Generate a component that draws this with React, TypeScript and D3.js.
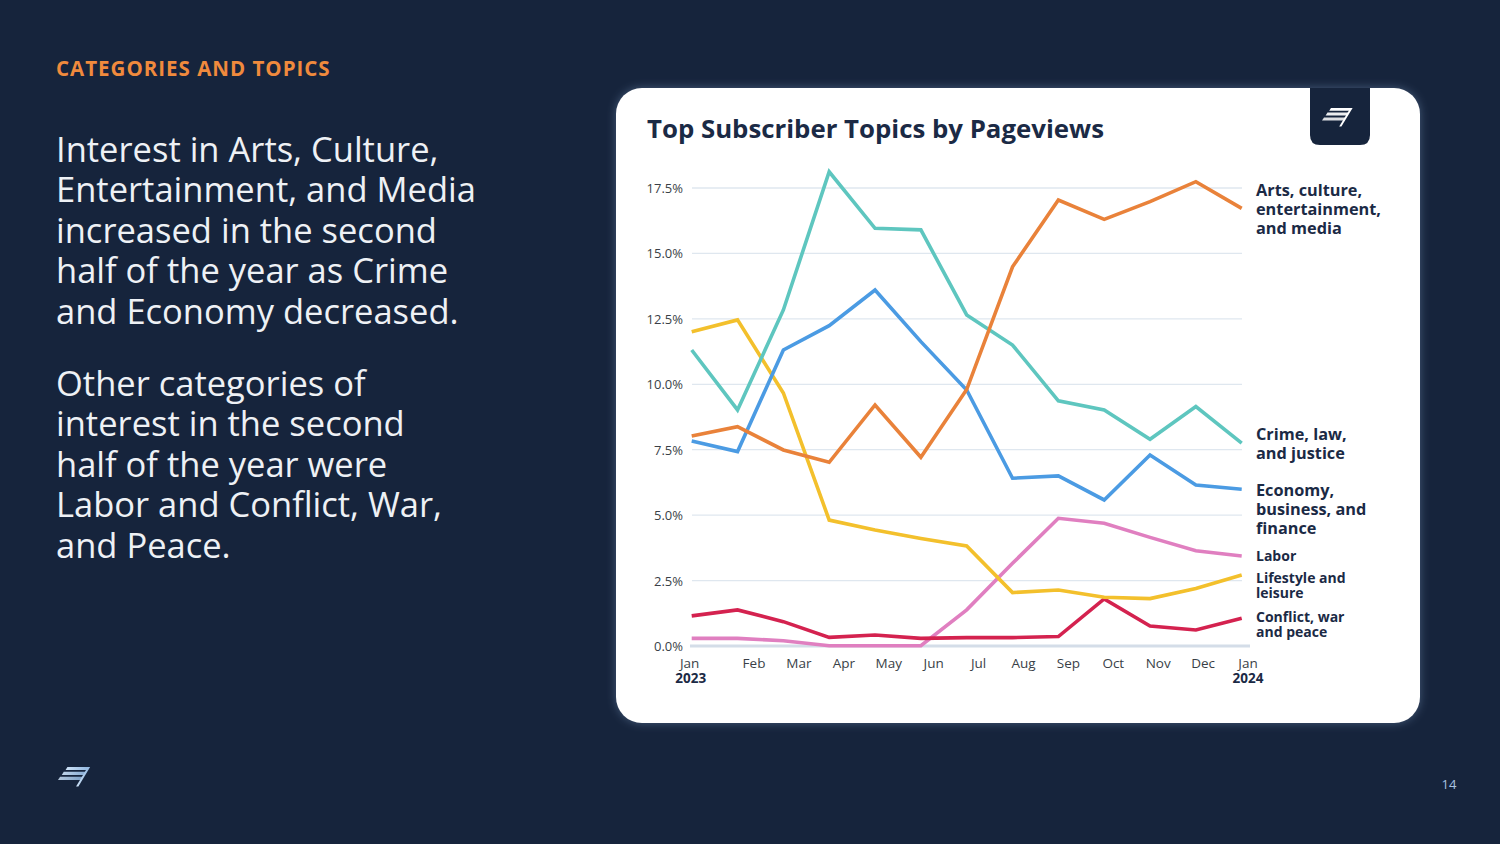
import React from "react";
import * as d3 from "d3";

// ---------- DATA ----------
const monthLabels = ["Jan", "Feb", "Mar", "Apr", "May", "Jun", "Jul", "Aug", "Sep", "Oct", "Nov", "Dec", "Jan"];
const yearLabels = ["2023", "2024"];
const yTicks = [0, 2.5, 5, 7.5, 10, 12.5, 15, 17.5];

const artsCulture = [8.02, 8.38, 7.49, 7.02, 9.21, 7.21, 9.8, 14.49, 17.04, 16.3, 16.98, 17.74, 16.72];
const crimeLaw = [11.31, 9.02, 12.84, 18.12, 15.96, 15.9, 12.65, 11.5, 9.37, 9.02, 7.9, 9.15, 7.75];
const economy = [7.83, 7.43, 11.31, 12.24, 13.6, 11.63, 9.78, 6.41, 6.5, 5.58, 7.3, 6.15, 5.99];
const labor = [0.29, 0.29, 0.2, 0.01, 0.01, 0.01, 1.38, 3.16, 4.88, 4.69, 4.15, 3.64, 3.44];
const lifestyle = [12.01, 12.46, 9.67, 4.81, 4.43, 4.11, 3.82, 2.04, 2.14, 1.86, 1.81, 2.2, 2.71];
const conflict = [1.15, 1.38, 0.93, 0.33, 0.42, 0.29, 0.32, 0.32, 0.36, 1.8, 0.76, 0.61, 1.06];

const seriesNames = [
  ["Labor"],
  ["Conflict, war", "and peace"],
  ["Lifestyle and", "leisure"],
  ["Economy,", "business, and", "finance"],
  ["Crime, law,", "and justice"],
  ["Arts, culture,", "entertainment,", "and media"],
];
const seriesValues = [labor, conflict, lifestyle, economy, crimeLaw, artsCulture];

// ---------- STYLE ----------
const seriesColors = ["#e07fc0", "#d4224f", "#f3c02c", "#4b9be3", "#5ec6bf", "#e9823a"];
const labelSizes = [14, 14, 14, 16.3, 16.3, 16.3];
const labelLineH = [15, 15, 15, 19, 19, 19];
const labelNudge = [0, -2, 2, 1, -9, -18];

const NAVY = "#16243c";
const FONT = "'Open Sans', 'Lato', sans-serif";

function Logo({ x, y, s, color, id }: { x: number; y: number; s: number; color: string; id: string }) {
  // stylised flag mark: three slanted stripes and a diagonal stroke
  return (
    <g transform={`translate(${x},${y}) scale(${s})`} fill={color}>
      <path d="M9,0 L30,0 L28.3,2.8 L7.2,2.8 Z" />
      <path d="M5.5,4.6 L27.2,4.6 L25.4,7.6 L3.6,7.6 Z" opacity={0.92} />
      <path d="M2,9.4 L24.2,9.4 L22.4,12.4 L0,12.4 Z" opacity={0.85} />
      <path d="M28.4,0 L30.6,0 L19.4,18.5 L17.2,18.5 Z" />
    </g>
  );
}

export default function App() {
  const W = 1500;
  const H = 844;

  const x = d3.scaleLinear().domain([0, 12]).range([691.7, 1241.7]);
  const y = d3.scaleLinear().domain([0, 17.5]).range([646, 188]);
  // month tick labels (Feb..Jan 2024) sit on their own evenly spaced axis
  const xLab = d3.scaleLinear().domain([1, 12]).range([754, 1248]);

  const line = d3
    .line<number>()
    .x((_, i) => x(i))
    .y((d) => y(d))
    .curve(d3.curveLinear);

  const leftPara1 = [
    "Interest in Arts, Culture,",
    "Entertainment, and Media",
    "increased in the second",
    "half of the year as Crime",
    "and Economy decreased.",
  ];
  const leftPara2 = [
    "Other categories of",
    "interest in the second",
    "half of the year were",
    "Labor and Conflict, War,",
    "and Peace.",
  ];

  return (
    <div style={{ position: "fixed", left: 0, top: 0, width: W, height: H }}>
      <svg width={W} height={H} viewBox={`0 0 ${W} ${H}`} style={{ display: "block" }}>
        <defs>
          <filter id="glow" x="-5%" y="-5%" width="110%" height="110%">
            <feGaussianBlur in="SourceAlpha" stdDeviation="5" result="blur" />
            <feFlood floodColor="#7d9cc4" floodOpacity="0.45" result="col" />
            <feComposite in="col" in2="blur" operator="in" result="shadow" />
            <feMerge>
              <feMergeNode in="shadow" />
              <feMergeNode in="SourceGraphic" />
            </feMerge>
          </filter>
          <linearGradient id="lg" x1="0" x2="1" y1="0" y2="0">
            <stop offset="0" stopColor="#cfe3f7" />
            <stop offset="1" stopColor="#8fb6e0" />
          </linearGradient>
        </defs>
        <rect x={0} y={0} width={W} height={H} fill={NAVY} />

        {/* Left side text */}
        <text x={56} y={68} dominantBaseline="central" fill="#f08a3d" fontFamily={FONT} fontWeight={700} fontSize={20.5} letterSpacing={1}>
          CATEGORIES AND TOPICS
        </text>
        {leftPara1.map((t, i) => (
          <text key={"p1" + i} x={56} y={148 + i * 40.6} dominantBaseline="central" fill="#eef1f5" fontFamily={FONT} fontSize={34.5}>
            {t}
          </text>
        ))}
        {leftPara2.map((t, i) => (
          <text key={"p2" + i} x={56} y={382 + i * 40.6} dominantBaseline="central" fill="#eef1f5" fontFamily={FONT} fontSize={34.5}>
            {t}
          </text>
        ))}

        <Logo x={58} y={767} s={1.05} color="url(#lg)" id="a" />
        <text x={1449} y={784} textAnchor="middle" dominantBaseline="central" fill="#a9c2e0" fontFamily={FONT} fontSize={13}>
          14
        </text>

        {/* Card */}
        <rect x={616} y={88} width={804} height={635} rx={26} fill="#ffffff" filter="url(#glow)" />
        <path d="M1310,88 L1370,88 L1370,135 Q1370,145 1360,145 L1320,145 Q1310,145 1310,135 Z" fill={NAVY} />
        <Logo x={1322} y={108} s={1} color="#ffffff" id="b" />

        <text x={647} y={128} dominantBaseline="central" fill="#1b2a45" fontFamily={FONT} fontWeight={700} fontSize={25.8}>
          Top Subscriber Topics by Pageviews
        </text>

        {/* grid */}
        {yTicks.map((t) =>
          t === 0 ? null : (
            <line key={"g" + t} x1={692} x2={1242} y1={y(t)} y2={y(t)} stroke="#dfe7ef" strokeWidth={1.3} />
          )
        )}
        <line x1={690} x2={1250} y1={y(0)} y2={y(0)} stroke="#d4dde8" strokeWidth={3} />
        {yTicks.map((t) => (
          <text key={"yt" + t} x={683} y={y(t)} textAnchor="end" dominantBaseline="central" fill="#3a3f47" fontFamily={FONT} fontSize={13}>
            {t.toFixed(1)}%
          </text>
        ))}

        {/* x axis labels */}
        {monthLabels.map((m, i) => {
          const xx = i === 0 ? x(0) - 2 : xLab(i);
          return (
            <text key={"m" + i} x={xx} y={663} textAnchor="middle" dominantBaseline="central" fill="#3a3f47" fontFamily={FONT} fontSize={13.5}>
              {m}
            </text>
          );
        })}
        <text x={x(0) - 1} y={678} textAnchor="middle" dominantBaseline="central" fill="#1b2a45" fontFamily={FONT} fontWeight={700} fontSize={13.5}>
          {yearLabels[0]}
        </text>
        <text x={xLab(12)} y={678} textAnchor="middle" dominantBaseline="central" fill="#1b2a45" fontFamily={FONT} fontWeight={700} fontSize={13.5}>
          {yearLabels[1]}
        </text>

        {/* lines */}
        {seriesValues.map((vals, si) => (
          <path
            key={"l" + si}
            d={line(vals) || ""}
            fill="none"
            stroke={seriesColors[si]}
            strokeWidth={3.6}
            strokeLinejoin="miter"
            strokeLinecap="butt"
          />
        ))}

        {/* end labels */}
        {seriesValues.map((vals, si) => {
          const y0 = y(vals[vals.length - 1]) + labelNudge[si];
          return (
            <g key={"lab" + si}>
              {seriesNames[si].map((ln, li) => (
                <text
                  key={li}
                  x={1256}
                  y={y0 + li * labelLineH[si]}
                  dominantBaseline="central"
                  fill="#1b2a45"
                  fontFamily={FONT}
                  fontWeight={700}
                  fontSize={labelSizes[si]}
                >
                  {ln}
                </text>
              ))}
            </g>
          );
        })}
      </svg>
    </div>
  );
}
